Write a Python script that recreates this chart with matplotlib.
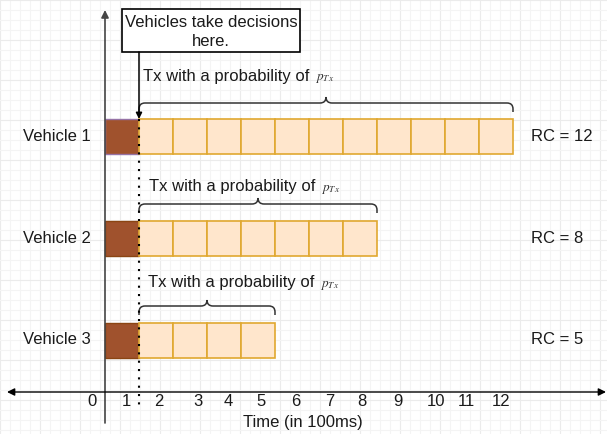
import matplotlib.pyplot as plt
from matplotlib.path import Path
from matplotlib.patches import PathPatch, Rectangle

plt.rcParams['font.family'] = ['Liberation Sans', 'DejaVu Sans']
plt.rcParams['mathtext.fontset'] = 'stix'

# data
vehicles = ['Vehicle 1', 'Vehicle 2', 'Vehicle 3']
rc_values = [12, 8, 5]
decision_slot = 1
tick_labels = ['0', '1', '2', '3', '4', '5', '6', '7', '8', '9', '10', '11', '12']
tick_x_px = [92, 126, 159, 198, 228, 261, 296, 330, 362, 398, 436, 466, 501]

# layout (pixels)
W, H = 607, 434
X0, SLOT = 105, 34          # time 0 sits on the vertical axis, one slot = 34 px
row_y = [136.5, 238.5, 340]
bar_h = 35
brace_y = [103, 204, 306]
txt_y = [76, 187, 283]
txt_x = [143, 149, 148]
axis_y = 392


def t(px):
    return (px - X0) / SLOT


fig = plt.figure(figsize=(W / 100, H / 100), dpi=100)
ax = fig.add_axes([0, 0, 1, 1])
ax.set_xlim(t(0), t(W))
ax.set_ylim(H, 0)
ax.axis('off')

# draw.io style background grid
for i, gx in enumerate(range(0, W + 1, 10)):
    ax.axvline(t(gx), color='#ebebeb' if i % 4 == 0 else '#f4f4f4', lw=0.8, zorder=0)
for i, gy in enumerate(range(0, H + 1, 10)):
    ax.axhline(gy, color='#ebebeb' if i % 4 == 0 else '#f4f4f4', lw=0.8, zorder=0)

# axes arrows
ax.annotate('', xy=(t(X0), 10), xytext=(t(X0), 423),
            arrowprops=dict(arrowstyle='-|>', color='#444444', lw=1.2,
                            mutation_scale=11, shrinkA=0, shrinkB=0), zorder=3)
ax.annotate('', xy=(t(606), axis_y), xytext=(t(7), axis_y),
            arrowprops=dict(arrowstyle='<|-|>', color='black', lw=1.0,
                            mutation_scale=11, shrinkA=0, shrinkB=0), zorder=3)

for lab, px in zip(tick_labels, tick_x_px):
    ax.text(t(px), 401, lab, ha='center', va='center', fontsize=12, color='#1a1a1a')
ax.text(t(303), 422, 'Time (in 100ms)', ha='center', va='center', fontsize=12, color='#1a1a1a')


def brace(a, b, yb, rx=6 / SLOT, ry=6, drop=9, tip=6):
    m = (a + b) / 2
    verts = [(a, yb + drop), (a, yb + ry), (a, yb), (a + rx, yb),
             (m - rx, yb), (m, yb), (m, yb - tip), (m, yb), (m + rx, yb),
             (b - rx, yb), (b, yb), (b, yb + ry), (b, yb + drop)]
    codes = [Path.MOVETO, Path.LINETO, Path.CURVE3, Path.CURVE3,
             Path.LINETO, Path.CURVE3, Path.CURVE3, Path.CURVE3, Path.CURVE3,
             Path.LINETO, Path.CURVE3, Path.CURVE3, Path.LINETO]
    ax.add_patch(PathPatch(Path(verts, codes), fill=False, ec='#333333', lw=1.1, zorder=4))


for i, (name, rc) in enumerate(zip(vehicles, rc_values)):
    y = row_y[i]
    ax.barh(y, decision_slot, left=0, height=bar_h, color='#a0522d',
            edgecolor='#9673a6' if i == 0 else '#8b4513', lw=1.0, zorder=2)
    lefts = list(range(decision_slot, rc))
    ax.barh([y] * len(lefts), 1, left=lefts, height=bar_h, color='#ffe6cc',
            edgecolor='#e0a830', lw=1.2, zorder=2)
    ax.text(t(91), y, name, ha='right', va='center', fontsize=12, color='#1a1a1a')
    ax.text(t(531), y, 'RC = %d' % rc, ha='left', va='center', fontsize=12, color='#1a1a1a')
    brace(decision_slot, rc, brace_y[i])
    tx = ax.text(t(txt_x[i]), txt_y[i], 'Tx with a probability of', ha='left',
                 va='center', fontsize=12, color='#1a1a1a')
    ax.annotate(r'$p_{T\,x}$', xy=(1, 0.25), xycoords=tx, xytext=(4, 0),
                textcoords='offset points', ha='left', va='baseline',
                fontsize=9.5, color='#333333')

# decision box + arrow + dotted line
ax.add_patch(Rectangle((t(122), 9), t(300) - t(122), 43, facecolor='white',
                       edgecolor='black', lw=1.2, zorder=5))
ax.text(t(211), 32, 'Vehicles take decisions\nhere.', ha='center', va='center',
        fontsize=12, color='#1a1a1a', linespacing=1.35, zorder=6)
ax.annotate('', xy=(decision_slot, row_y[0] - bar_h / 2), xytext=(decision_slot, 52),
            arrowprops=dict(arrowstyle='-|>', color='black', lw=1.1,
                            mutation_scale=9, shrinkA=0, shrinkB=0), zorder=6)
ax.plot([decision_slot, decision_slot], [row_y[0] - bar_h / 2, 410], color='black',
        lw=1.5, ls=(0, (1, 3)), zorder=6)

fig.savefig('out.png', dpi=100)
